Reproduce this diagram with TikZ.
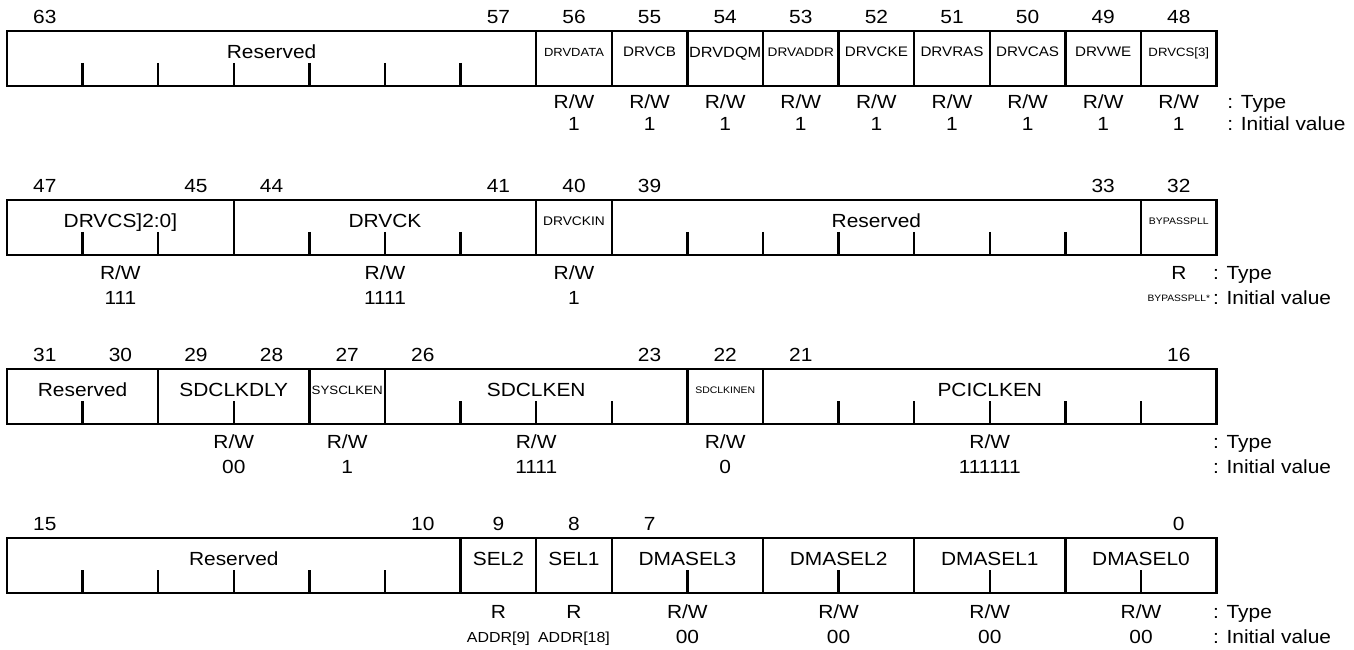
\documentclass[tikz,border=0pt]{standalone}
\usepackage{fontspec}
\setmainfont{Liberation Sans}[FakeStretch=1.1]
\usepackage{tikz}
\usetikzlibrary{positioning}

\begin{document}
\begin{tikzpicture}[x=75.6pt, y=-1pt,
    regline/.style={line width=2.4pt},
    bitnum/.style={font=\fontsize{19}{20}\selectfont, inner sep=0pt, anchor=base, yshift=-6.8pt},
    fieldname/.style={font=\fontsize{#1}{#1}\selectfont, inner sep=0pt, anchor=base, yshift=-0.358*#1pt},
    fieldname/.default=19,
    legend/.style={font=\fontsize{19}{20}\selectfont, inner sep=0pt, anchor=base west, yshift=-6.8pt}
]
\useasboundingbox (-0.0926,0) rectangle (17.8175,650);

% Bits 63..48
\draw[regline] (0,31) rectangle (16,86);
\foreach \c in {7,...,15} \draw[regline] (\c,31) -- (\c,86);
\foreach \c in {1,...,6} \draw[regline] (\c,63) -- (\c,86);
\node[bitnum] (bit63) at (0.5,17) {63};
\node[bitnum] (bit57) at (6.5,17) {57};
\foreach \c [evaluate=\c as \b using int(63-\c)] in {7,...,15}
    \node[bitnum] (bit\b) at (\c+0.5,17) {\b};
\node[fieldname] (rsvdA) at (3.5,52) {Reserved};
\foreach \c/\nm/\sz in {7/DRVDATA/11.8, 8/DRVCB/13.8, 9/DRVDQM/14.8, 10/DRVADDR/12.4,
    11/DRVCKE/13.8, 12/DRVRAS/13.8, 13/DRVCAS/13.8, 14/DRVWE/13.8, 15/{DRVCS[3]}/12}
    \node[fieldname=\sz] (fld\c) at (\c+0.5,52) {\nm};
\foreach \c in {7,...,15} {
    \node[fieldname] (typeA\c) at (\c+0.5,102) {R/W};
    \node[fieldname] (initA\c) at (\c+0.5,124) {1};
}
\node[legend] (typeA) at (16.14,102) {: Type};
\node[legend] (initA) at (16.14,124) {: Initial value};

% Bits 47..32
\begin{scope}[yshift=-169pt]
\draw[regline] (0,31) rectangle (16,86);
\foreach \c in {3,7,8,15} \draw[regline] (\c,31) -- (\c,86);
\foreach \c in {1,2,4,5,6,9,10,...,14} \draw[regline] (\c,63) -- (\c,86);
\node[bitnum] (bit47) at (0.5,17) {47};
\node[bitnum] (bit45) at (2.5,17) {45};
\node[bitnum] (bit44) at (3.5,17) {44};
\node[bitnum] (bit41) at (6.5,17) {41};
\node[bitnum] (bit40) at (7.5,17) {40};
\node[bitnum] (bit39) at (8.5,17) {39};
\node[bitnum] (bit33) at (14.5,17) {33};
\node[bitnum] (bit32) at (15.5,17) {32};
\node[fieldname] (drvcs) at (1.5,52) {DRVCS]2:0]};
\node[fieldname] (drvck) at (5,52) {DRVCK};
\node[fieldname=12.5] (drvckin) at (7.5,52) {DRVCKIN};
\node[fieldname] (rsvdB) at (11.5,52) {Reserved};
\node[fieldname=9.5] (bypass) at (15.5,52) {BYPASSPLL};
\node[fieldname] (typeB1) at (1.5,104) {R/W};
\node[fieldname] (typeB2) at (5,104) {R/W};
\node[fieldname] (typeB3) at (7.5,104) {R/W};
\node[fieldname] (typeB4) at (15.5,104) {R};
\node[fieldname] (initB1) at (1.5,129) {111};
\node[fieldname] (initB2) at (5,129) {1111};
\node[fieldname] (initB3) at (7.5,129) {1};
\node[fieldname=9.3] (initB4) at (15.5,129) {BYPASSPLL*};
\node[legend] (typeB) at (15.95,104) {: Type};
\node[legend] (initB) at (15.95,129) {: Initial value};
\end{scope}

% Bits 31..16
\begin{scope}[yshift=-338pt]
\draw[regline] (0,31) rectangle (16,86);
\foreach \c in {2,4,5,9,10} \draw[regline] (\c,31) -- (\c,86);
\foreach \c in {1,3,6,7,8,11,12,...,15} \draw[regline] (\c,63) -- (\c,86);
\foreach \c/\b in {0/31, 1/30, 2/29, 3/28, 4/27, 5/26, 8/23, 9/22, 10/21, 15/16}
    \node[bitnum] (bit\b) at (\c+0.5,17) {\b};
\node[fieldname] (rsvdC) at (1,52) {Reserved};
\node[fieldname] (sdclkdly) at (3,52) {SDCLKDLY};
\node[fieldname=12.1] (sysclken) at (4.5,52) {SYSCLKEN};
\node[fieldname] (sdclken) at (7,52) {SDCLKEN};
\node[fieldname=9.5] (sdclkinen) at (9.5,52) {SDCLKINEN};
\node[fieldname] (pciclken) at (13,52) {PCICLKEN};
\foreach \x/\v [count=\i] in {3/00, 4.5/1, 7/1111, 9.5/0, 13/111111} {
    \node[fieldname] (typeC\i) at (\x,104) {R/W};
    \node[fieldname] (initC\i) at (\x,129) {\v};
}
\node[legend] (typeC) at (15.95,104) {: Type};
\node[legend] (initC) at (15.95,129) {: Initial value};
\end{scope}

% Bits 15..0
\begin{scope}[yshift=-507pt]
\draw[regline] (0,31) rectangle (16,86);
\foreach \c in {6,7,8,10,12,14} \draw[regline] (\c,31) -- (\c,86);
\foreach \c in {1,...,5,9,11,13,15} \draw[regline] (\c,63) -- (\c,86);
\foreach \c/\b in {0/15, 5/10, 6/9, 7/8, 8/7, 15/0}
    \node[bitnum] (bit\b) at (\c+0.5,17) {\b};
\node[fieldname] (rsvdD) at (3,52) {Reserved};
\node[fieldname] (sel2) at (6.5,52) {SEL2};
\node[fieldname] (sel1) at (7.5,52) {SEL1};
\node[fieldname] (typeD1) at (6.5,105) {R};
\node[fieldname] (typeD2) at (7.5,105) {R};
\node[fieldname=14.5] (initD1) at (6.5,130) {ADDR[9]};
\node[fieldname=14.5] (initD2) at (7.5,130) {ADDR[18]};
\foreach \x/\n in {9/3, 11/2, 13/1, 15/0} {
    \node[fieldname] (dmasel\n) at (\x,52) {DMASEL\n};
    \node[fieldname] (typeE\n) at (\x,105) {R/W};
    \node[fieldname] (initE\n) at (\x,130) {00};
}
\node[legend] (typeD) at (15.95,105) {: Type};
\node[legend] (initD) at (15.95,130) {: Initial value};
\end{scope}
\end{tikzpicture}
\end{document}
